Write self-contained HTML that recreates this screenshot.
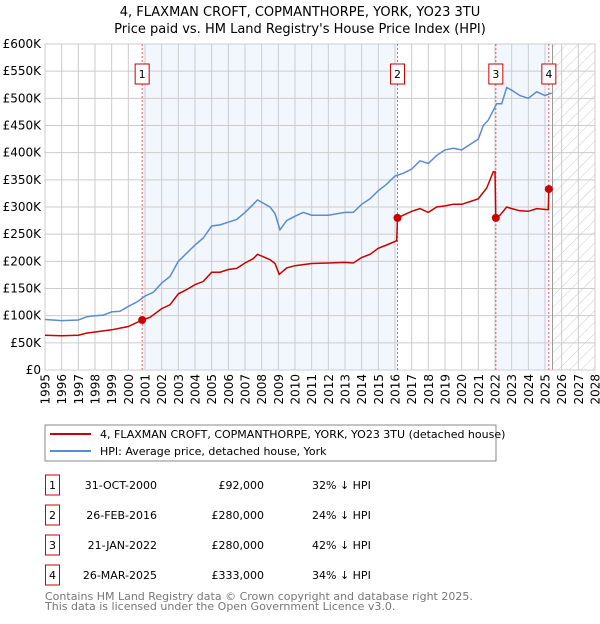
<!DOCTYPE html>
<html><head><meta charset="utf-8"><style>
html,body{margin:0;padding:0;background:#fff;}
body{width:600px;height:620px;overflow:hidden;font-family:"DejaVu Sans","Liberation Sans",sans-serif;}
svg text{font-family:"DejaVu Sans","Liberation Sans",sans-serif;}
</style></head><body>
<svg id="chart" width="600" height="620" viewBox="0 0 600 620">
<text x="300" y="16" text-anchor="middle" font-size="13" fill="#000">4, FLAXMAN CROFT, COPMANTHORPE, YORK, YO23 3TU</text>
<text x="300" y="33" text-anchor="middle" font-size="13" fill="#000">Price paid vs. HM Land Registry's House Price Index (HPI)</text>
<defs><pattern id="hatch" width="8" height="8" patternUnits="userSpaceOnUse" patternTransform="rotate(45)"><line x1="0" y1="0" x2="0" y2="8" stroke="#ccc" stroke-width="1"/></pattern></defs>
<g id="plot"></g>
<rect x="45" y="425" width="451" height="36" fill="#fff" stroke="#888"/>
<line x1="50" y1="434" x2="91" y2="434" stroke="#cc0000" stroke-width="2"/>
<text x="100" y="438" font-size="11">4, FLAXMAN CROFT, COPMANTHORPE, YORK, YO23 3TU (detached house)</text>
<line x1="50" y1="451" x2="91" y2="451" stroke="#5b8bd0" stroke-width="2"/>
<text x="100" y="455" font-size="11">HPI: Average price, detached house, York</text>
<g id="table" font-size="11"></g>
<text x="45" y="600" font-size="11" fill="#777">Contains HM Land Registry data © Crown copyright and database right 2025.</text>
<text x="45" y="610" font-size="11" fill="#777">This data is licensed under the Open Government Licence v3.0.</text>
</svg>
<script>
const hpiYears=[1995,1996,1997,1997.5,1998,1998.5,1999,1999.5,2000,2000.5,2001,2001.5,2002,2002.5,2003,2003.5,2004,2004.5,2005,2005.5,2006,2006.5,2007,2007.5,2007.75,2008.5,2008.8,2009.1,2009.5,2010,2010.5,2011,2012,2013,2013.5,2014,2014.5,2015,2015.5,2016,2016.5,2017,2017.5,2018,2018.5,2019,2019.5,2020,2020.5,2021,2021.3,2021.6,2021.9,2022.1,2022.4,2022.7,2023,2023.5,2024,2024.5,2025,2025.4];
const hpiValues=[93000,91000,92000,98000,100000,101000,107000,108000,117000,125000,136000,143000,160000,172000,200000,215000,230000,243000,265000,267000,272000,277000,290000,305000,313000,300000,288000,258000,275000,283000,290000,285000,285000,290000,290000,305000,315000,330000,342000,357000,362000,370000,385000,380000,395000,405000,408000,405000,415000,425000,450000,460000,478000,490000,490000,520000,515000,505000,500000,512000,505000,510000];
const ppYears=[1995,1996,1997,1997.5,1998,1999,2000,2000.83,2001.3,2002,2002.5,2003,2003.5,2004,2004.5,2005,2005.5,2006,2006.5,2007,2007.5,2007.75,2008.5,2008.8,2009.05,2009.5,2010,2011,2012,2013,2013.5,2014,2014.5,2015,2015.5,2016.1,2016.15,2016.5,2017,2017.5,2018,2018.5,2019,2019.5,2020,2020.5,2021,2021.5,2021.9,2022.0,2022.05,2022.3,2022.7,2023,2023.5,2024,2024.5,2025.2,2025.23];
const ppValues=[64000,63000,64000,68000,70000,74000,80000,92000,97000,113000,120000,140000,148000,157000,163000,180000,180000,185000,187000,197000,205000,213000,203000,196000,176000,188000,192000,196000,197000,198000,197000,207000,213000,224000,230000,238000,280000,285000,292000,297000,290000,300000,302000,305000,305000,310000,315000,335000,365000,365000,280000,285000,300000,297000,293000,292000,297000,295000,333000];
const saleLabels=["1","2","3","4"];
const saleYears=[2000.83,2016.15,2022.05,2025.23];
const salePrices=[92000,280000,280000,333000];
const saleDates=["31-OCT-2000","26-FEB-2016","21-JAN-2022","26-MAR-2025"];
const salePriceText=["£92,000","£280,000","£280,000","£333,000"];
const saleHpiText=["32% ↓ HPI","24% ↓ HPI","42% ↓ HPI","34% ↓ HPI"];
const yTicks=[0,50000,100000,150000,200000,250000,300000,350000,400000,450000,500000,550000,600000];
const yTickLabels=["£0","£50K","£100K","£150K","£200K","£250K","£300K","£350K","£400K","£450K","£500K","£550K","£600K"];
const xStart=1995,xEnd=2028,dataEnd=2025.45;

const L=45,R=595,T=44,B=370;
const xs=y=>L+(y-xStart)/(xEnd-xStart)*(R-L);
const ys=v=>B-v/600000*(B-T);
const NS="http://www.w3.org/2000/svg";
const g=document.getElementById('plot');
function mk(tag,attrs,parent){const e=document.createElementNS(NS,tag);for(const k in attrs)e.setAttribute(k,attrs[k]);(parent||g).appendChild(e);return e;}

let b1=mk('rect',{x:xs(saleYears[0]),y:T,width:xs(saleYears[1])-xs(saleYears[0]),height:B-T,fill:'#f2f6fd'});


let b2=mk('rect',{x:xs(saleYears[2]),y:T,width:xs(saleYears[3])-xs(saleYears[2]),height:B-T,fill:'#f2f6fd'});


let h=mk('rect',{x:xs(dataEnd),y:T,width:R-xs(dataEnd),height:B-T,fill:'url(#hatch)'});



for(let i=0;i<yTicks.length;i++){
  const y=ys(yTicks[i]);
  let ln=mk('line',{x1:L,x2:R,y1:y,y2:y,stroke:'#ccc','stroke-width':1});
  
  
  let t=mk('text',{x:L-4,y:y+4,'text-anchor':'end','font-size':12,fill:'#000'});
  t.textContent=yTickLabels[i];
  
  
}
for(let yr=xStart;yr<=xEnd;yr++){
  const x=xs(yr);
  let ln=mk('line',{x1:x,x2:x,y1:T,y2:B,stroke:'#ccc','stroke-width':1});
  
  
  let t=mk('text',{x:0,y:0,'text-anchor':'end','font-size':12,fill:'#000',transform:'translate('+(x+4.5)+',374) rotate(-90)'});
  t.textContent=String(yr);
  
  
}
let dl=mk('line',{x1:xs(dataEnd),x2:xs(dataEnd),y1:T,y2:B,stroke:'#999','stroke-width':1});


let fr=mk('rect',{x:L,y:T,width:R-L,height:B-T,fill:'none',stroke:'#ccc'});



for(let i=0;i<saleYears.length;i++){
  const x=xs(saleYears[i]);
  let ln=mk('line',{x1:x,x2:x,y1:T,y2:B,stroke:'#e06060','stroke-width':1,'stroke-dasharray':'2,2'});
  
  
  let bx=mk('rect',{x:x-7,y:64,width:14,height:20,fill:'#fff',stroke:'#cc0000'});
  
  
  let t=mk('text',{x:x,y:78,'text-anchor':'middle','font-size':11});
  t.textContent=saleLabels[i];
  
  
}

function path(xa,va){return xa.map((x,i)=>(i?'L':'M')+xs(x).toFixed(1)+','+ys(va[i]).toFixed(1)).join('');}
let hp=mk('path',{d:path(hpiYears,hpiValues),fill:'none',stroke:'#5b8bd0','stroke-width':1.5});


let pp=mk('path',{d:path(ppYears,ppValues),fill:'none',stroke:'#cc0000','stroke-width':1.5});


for(let i=0;i<saleYears.length;i++){
  let c=mk('circle',{cx:xs(saleYears[i]),cy:ys(salePrices[i]),r:4,fill:'#cc0000'});
  
  
}

const tb=document.getElementById('table');
for(let i=0;i<saleYears.length;i++){
  const cy=485+i*30;
  let bx=mk('rect',{x:45.5,y:cy-10,width:14,height:20,fill:'#fff',stroke:'#cc0000'},tb);
  
  
  let t0=mk('text',{x:52.5,y:cy+4,'text-anchor':'middle'},tb);t0.textContent=saleLabels[i];
  
  
  let t1=mk('text',{x:157,y:cy+4,'text-anchor':'end'},tb);t1.textContent=saleDates[i];
  
  
  let t2=mk('text',{x:264,y:cy+4,'text-anchor':'end'},tb);t2.textContent=salePriceText[i];
  
  
  let t3=mk('text',{x:312,y:cy+4},tb);t3.textContent=saleHpiText[i];
  
  
}
</script>
</body></html>
